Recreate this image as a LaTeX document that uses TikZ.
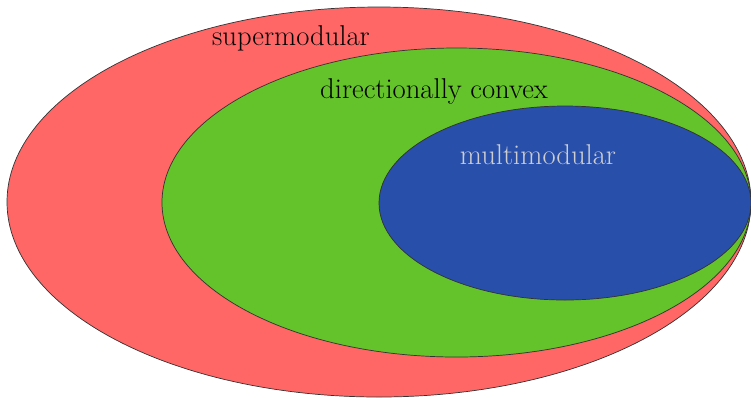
\documentclass[tikz,border=0pt]{standalone}
\usepackage{xcolor}
\usepackage{tikz}

\definecolor{supred}{RGB}{255,102,102}
\definecolor{dirgreen}{RGB}{100,194,42}
\definecolor{mulblue}{RGB}{40,80,170}
\definecolor{mulgray}{RGB}{205,205,210}

\begin{document}
\begin{tikzpicture}[
  x=0.02cm, y=-0.02cm,
  font=\fontsize{16.3pt}{19pt}\selectfont,
  setline/.style={draw=black!80, line width=0.4pt},
  suprset/.style={setline, fill=supred},
  dirset/.style={setline, fill=dirgreen},
  mulset/.style={setline, fill=mulblue}
]

% Rand: 751 x 397 px
\useasboundingbox (0,0) rectangle (751,397);

% Mengen von aussen nach innen
\draw[suprset] (379,202) ellipse [x radius=372, y radius=195];
\draw[dirset] (456.5,202.5) ellipse [x radius=294.5, y radius=154.5];
\draw[mulset] (565,203) ellipse [x radius=186, y radius=97];

% Beschriftungen
\node (supermod) at (291,38) {supermodular};
\node (dirconvex) at (434,91) {directionally convex};
\node[text=mulgray] (multimod) at (538,155) {multimodular};

\end{tikzpicture}
\end{document}
